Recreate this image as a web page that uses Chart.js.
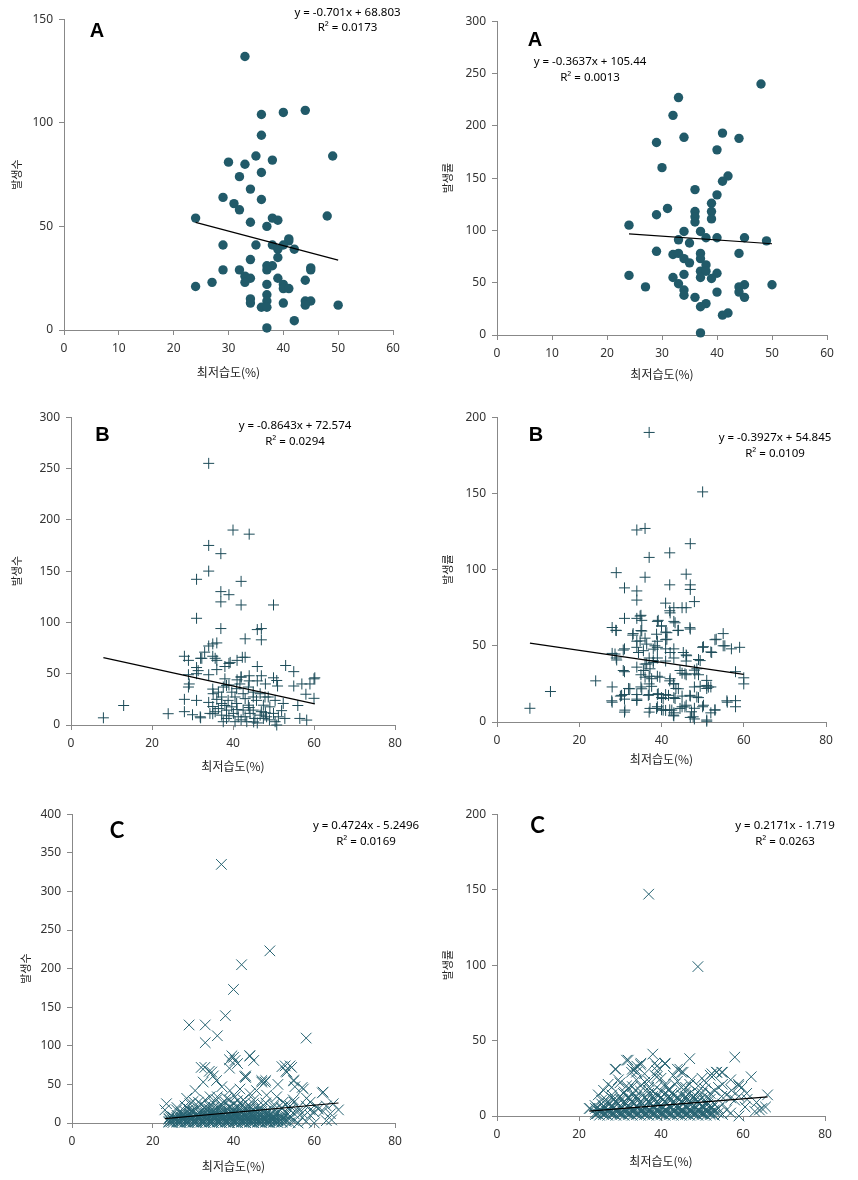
<!DOCTYPE html>
<html><head><meta charset="utf-8">
<script src="https://cdn.jsdelivr.net/npm/chart.js@4.4.1/dist/chart.umd.min.js"></script>
<style>
html,body{margin:0;padding:0;background:#fff;}
body{width:858px;height:1180px;position:relative;overflow:hidden;}
canvas{position:absolute;}
.lbl{position:absolute;transform:translate(-50%,-50%);white-space:nowrap;color:#000;}
.letter{font-family:"Liberation Sans",Arial,sans-serif;font-weight:bold;font-size:20px;line-height:1;}
.letterC{font-family:Lato,"Liberation Sans",sans-serif;font-weight:bold;font-size:22px;line-height:1;}
.eq{font-family:"Noto Sans",sans-serif;font-size:11.5px;line-height:1;}
</style></head><body>
<script>
// ---------- data ----------
const a1Data = [[33,132],[44,106],[40,105],[36,104],[36,94],[35,84],[49,84],[30,81],[33,80],[38,82],[32,74],[36,76],[34,68],[29,64],[36,63],[31,61],[32,58],[24,54],[48,55],[34,52],[38,54],[39,53],[37,50],[41,44],[41,43],[29,41],[35,41],[38,41],[40,41],[39,39],[42,39],[39,35],[34,34],[38,31],[37,31],[37,29],[29,29],[32,29],[45,30],[45,29],[33,26],[34,25],[39,25],[44,24],[27,23],[33,23],[24,21],[37,22],[40,22],[40,20],[41,20],[37,17],[34,15],[34,13],[37,14],[44,14],[45,14],[40,13],[44,12],[50,12],[36,11],[37,11],[42,4.5],[37,1]];

const a2Data = [[48,240],[33,227],[32,210],[29,184],[34,189],[41,193],[44,188],[40,177],[30,160],[42,152],[41,147],[36,139],[40,134],[39,126],[31,121],[29,115],[36,118],[39,118],[36,113],[36,108],[39,111],[24,105],[34,99],[37,99],[33,91],[35,88],[38,93],[40,93],[45,93],[49,90],[29,80],[32,77],[33,78],[37,78],[44,78],[34,73],[37,73],[35,69],[38,67],[37,61],[38,61],[40,59],[24,57],[34,58],[32,55],[37,55],[39,54],[33,49],[45,48],[50,48],[27,46],[44,46],[34,43],[34,38],[40,41],[44,41],[45,36],[36,36],[38,30],[37,27],[42,21],[41,19],[37,2]];

const b1Data = [[34,255],[40,190],[44,186],[34,175],[37,167],[34,150],[31,142],[42,140],[37,130],[39,127],[37,120],[42,117],[50,117],[31,104],[37,94],[46,93],[47,94],[43,84],[47,83],[34,77],[35,79],[36,80],[33,71],[32,65],[28,67],[29,63],[35,67],[36,63],[41,63],[43,66],[39,60],[38,57],[31,56],[53,58],[46,57],[55,52],[36,54],[34,49],[29,49],[47,48],[60,45],[50,46],[42,47],[41,44],[44,43],[31,50],[29,37],[35,35],[39,39],[51,38],[55,38],[57,40],[59,40],[58,30],[60,26],[56,19],[28,25],[31,24],[34,22],[13,19],[8,7],[24,11],[28,13],[30,10],[32,7],[35,11],
[32.3,65],[35.6,65],[39.3,61],[42.3,66],[31.4,53],[29.2,40],[42,46.6],[50.8,43.4],[60.2,46],[38.4,38.6],[39.7,32],[41.7,40],[43.8,37],[45,32],[46.7,30.5],[48.7,27.3],[50.4,24],[52.4,21],[37.2,27.3],[37.2,21],[38.8,24],[40.9,21],[43,25.7],[43.8,19.3],[45.8,24],[47.5,19.3],[49.1,17.7],[36.4,16],[38.4,14.5],[39.7,17.7],[42.5,14.5],[45,14.5],[31.9,8],[34.3,11.3],[35.6,12.9],[37.2,9.6],[38.4,6.4],[40.1,11.3],[41.3,8],[40.5,3.2],[43,8],[44.2,11.3],[45.4,6.4],[46.7,9.6],[47.5,6.4],[48.3,8],[50,11.3],[51.2,8],[50.4,3.2],[52.8,6.4],[56.5,6.4],[58.2,4.8],[50.8,0],[43.4,3.2],[37.6,3.2],[45.1,3],[36.4,32],[37.6,37],[35.1,30.5],[40.5,27.3],[42.5,30.5],[47.9,27.3],[40.9,35.4],[45,27.3],[46,43],[48,40],[44,48],[38,45],[36,25],[41,15],[47,13],[39,9],[42,5],[46,2],[48,12],[49,5],[44,17],[52,14],[35,18],[38,19]];

const b2Data = [[37,190],[50,151],[34,126],[36,127],[47,117],[42,111],[37,108],[29,98],[36,95],[46,97],[31,88],[42,90],[47,90],[47,87],[34,86],[34,80],[48,79],[41,78],[42,73],[43,75],[45,75],[46,75],[31,68],[34,68],[35,70],[39,66],[43,66],[40,63],[28,62],[29,60],[47,61],[44,60],[35,60],[41,59],[55,58],[33,57],[53,54],[36,55],[34,53],[41,54],[39,53],[55,50],[57,48],[59,49],[50,49],[52,46],[31,48],[34,49],[39,49],[41,48],[43,48],[28,45],[29,42],[46,44],[46,40],[49,41],[43,42],[37,42],[39,42],[41,40],[34,36],[36,38],[38,39],[31,33],[58,33],[48,34],[35,31],[37,30],[39,30],[45,32],[46,31],[49,31],[60,29],[60,25],[24,27],[42,27],[43,25],[37,25],[28,23],[32,22],[35,23],[43.5,22],[48,23],[51,24],[51,22],[52,23],[13,20],[31,18],[30,17],[34,18],[37,18],[39,18],[41,18],[45,17],[47,17],[49,16],[34,15],[31,15],[40,16],[43,16],[28,13],[56,13],[58,14],[58,10],[39,10],[40,8],[41,7.6],[42,8],[45,10],[46,11],[48,9],[50,10],[31,6.5],[37,6.5],[43,6],[52,6],[53,8],[43,4],[47,3],[48,2],[51,0.5],[8,9],
[42.1,71.6],[34.8,69.5],[39.2,66.7],[35.2,66.7],[43.3,65.1],[28.9,60.2],[33.1,58],[35.2,59.7],[40,63],[44.1,60.2],[46.9,61.9],[38.8,57.6],[41.3,58.6],[41.3,54.3],[34.8,53.2],[36.4,51.1],[38.4,50],[30.7,47.2],[28.7,44.6],[29.1,40.7],[34.4,45.6],[35.6,46.8],[38,47.8],[42.1,45.6],[45.3,45.6],[46.1,43.5],[50.2,49.4],[52.2,45.6],[53.3,54.3],[55.4,50],[49.4,40.3],[38,40.3],[36.4,38.1],[37.2,34.9],[35.6,33.8],[30.7,33.8],[44.5,33.8],[45.7,31.6],[48.6,34.9],[48.1,31.6],[36,29.4],[37.6,28.4],[39.6,29.4],[42.1,28.4],[42.9,25.1],[51,27.3],[51.4,22.9],[32.3,21.8],[35.2,21.8],[37.6,23.4],[44.1,21.8],[49.4,23.4],[30.3,17.5],[36.8,17.5],[39.2,18.6],[41.7,17.5],[46.9,17.5],[48.6,16.4],[27.9,13.9],[34,14.1],[40.4,15.4],[43.3,15.4],[55.9,13.9],[31.1,7.8],[37.2,8.9],[38.8,8.9],[40.4,7.8],[42.5,7.8],[44.5,8.9],[45.7,9.9],[47.3,6.7],[50.2,11],[53,7.8],[47.7,3.4],[42.9,4.5],[51,1.3]];

const c1Data = [[37,335],[49,223],[42,205],[40,173],[38,139],[29,127],[33,127],[36,113],[33,104],[58,110],[40,85],[39,82],[44,87],[45,81],[41,77],[52,73],[54,74],[53,67],[32,72],[34,67],[35,61],[39,71],[43,61],[43,59],[42.8,60],[47,53],[48,55],[55,55],[51,50],[57,46],[62,39],
[39.6,87],[40.4,81],[44.1,87],[32.9,72],[34.6,66],[47,55],[47.8,53],[52.8,74],[54.4,72],[53.2,66],[54.8,55],[55.2,47],[57.3,44],[62.2,40],[30.5,42],[32.5,53],[35.8,55],[37.1,47],[39.1,42],[41.6,44],[44.1,38],[45.7,42],[48.2,36],[50.7,34],[52.3,27],[54.8,30],[58.1,32],[59,27],[60.6,21],[64.7,25],[66,17],[64.3,4],[23.4,25],[23,17],[25.9,17],[28.4,32],[29.2,25],[31.3,27],[34.2,34],[35.8,30],[38.3,32],[40.4,34],[42.4,30],[44.9,25],[47.4,23],[49.9,21],[51.9,19],[54,17],[56,15],[59,17],[62.2,15],[24.3,8],[27.6,10],[30,15],
[26,20],[27,14],[28,22],[29,18],[30,28],[31,20],[32,16],[32,24],[33,30],[33,19],[34,22],[35,16],[35,26],[36,20],[36,34],[37,24],[37,18],[38,27],[38,14],[39,21],[39,30],[40,16],[40,25],[41,20],[41,29],[42,14],[42,23],[43,18],[43,27],[44,21],[44,14],[45,17],[45,30],[46,22],[46,13],[47,18],[48,15],[48,26],[49,12],[50,16],[50,24],[51,13],[52,20],[53,14],[53,24],[54,22],[55,12],[55,27],[56,20],[57,13],[58,22],[59,10],[60,14],[61,18],[63,22],[64,12],
[24,1],[26,1],[28,1],[30,1],[32,1],[34,1],[36,1],[38,1],[40,1],[42,1],[44,1],[46,1],[48,1],[50,1],[52,1],[56,0],[60,0],
[25,3],[27,3],[29,3],[31,3],[33,3],[35,3],[37,3],[39,3],[41,3],[43,3],[45,3],[47,3],[49,3],[51,3],[53,2],[55,3],[58,2],[63,3],
[24,5],[26,5],[28,5],[30,5],[32,5],[34,5],[36,5],[38,5],[40,5],[42,5],[44,5],[46,5],[48,5],[50,5],[52,5],[54,6],
[25,7],[27,7],[29,7],[31,7],[33,7],[35,7],[37,7],[39,7],[41,7],[43,7],[45,7],[47,7],[49,8],[51,8],[53,9],[57,7],
[28,10],[30,9],[32,10],[34,9],[36,10],[38,9],[40,11],[42,9],[44,10],[46,9],[48,10],[52,11],[54,9],
[31,12],[33,13],[35,12],[37,13],[39,12],[41,13],[43,12],[45,11],[47,12],[50,10]];

const c1Dense = [[25,0.5],[27,0.5],[29,0.5],[31,0.5],[33,0.5],[35,0.5],[37,0.5],[39,0.5],[41,0.5],[43,0.5],[45,0.5],[47,0.5],[49,0.5],[51,0.5],[54,0.5],
[24,2],[26,2],[28,2],[30,2],[32,2],[34,2],[36,2],[38,2],[40,2],[42,2],[44,2],[46,2],[48,2],[50,2],[52,2],
[25,4],[27,4],[29,4],[31,4],[33,4],[35,4],[37,4],[39,4],[41,4],[43,4],[45,4],[47,4],[49,4],[51,4],[53,4],
[24,6],[26,6],[28,6],[30,6],[32,6],[34,6],[36,6],[38,6],[40,6],[42,6],[44,6],[46,6],[48,6],[50,6],[52,6],
[25,8],[27,8],[29,8],[31,8],[33,8],[35,8],[37,8],[39,8],[41,8],[43,8],[45,8],[47,8],[50,8],
[26,10],[29,11],[31,10],[33,10],[35,10],[37,10],[39,10],[41,10],[43,10],[45,9],[47,10],[49,10],
[27,12],[29,13],[32,12],[34,13],[36,12],[38,12],[40,13],[42,12],[44,12],[46,12],[48,12],
[28,15],[30,14],[33,15],[35,14],[37,15],[39,15],[41,15],[43,15],[45,14],[47,15],
[30,17],[34,18],[36,17],[38,17],[40,18],[42,17],[44,18],[46,17],
[33,21],[35,20],[37,21],[39,20],[41,22],[43,20],
[24.5,1.5],[26.5,1.5],[28.5,1.5],[30.5,1.5],[32.5,1.5],[34.5,1.5],[36.5,1.5],[38.5,1.5],[40.5,1.5],[42.5,1.5],[44.5,1.5],[46.5,1.5],[48.5,1.5],[50.5,1.5],
[25.5,5.5],[27.5,5.5],[29.5,5.5],[31.5,5.5],[33.5,5.5],[35.5,5.5],[37.5,5.5],[39.5,5.5],[41.5,5.5],[43.5,5.5],[45.5,5.5],[47.5,5.5],[49.5,5.5]];

const c2Data = [[37,147],[49,99],[38,41],[58,39],[47,38],[32,37],[35,34],[41,35],[39,33],[33,31],[34,29],[29,31],[44,31],[45,29],[62,26],[52,27],[53.5,29],[55,29],[39,26],[59,20],[66,14],[64,4],[22.5,5],
[31.6,37],[34.1,33],[35.1,35],[38.5,35],[41,34.5],[28.8,31],[32.8,29],[33.7,31],[39,30],[44.6,31],[45.4,29],[52.4,28],[53.6,29],[54.8,29],[58.9,21],[27.1,21],[29.6,24],[31.6,20],[36.1,22.5],[38.5,27],[41,21],[43.4,21],[47.5,24],[49.1,20],[50.7,18],[54,19],[57.2,17],[59.7,19],[60.9,15],[63.3,9],[64.6,5],[24.7,14],[25.5,10.5],[22.7,5],[23.9,7],[28,14],[30.8,15],[33.7,17],[36.9,17],[40.2,16],[42.6,15],[45,14],[48.3,14],[51.5,12],[54.8,13],[58,10.5],[60.5,6],[62.9,3],[65.5,6],
[26,17],[28,19],[30,22],[32,18],[34,24],[35,20],[37,23],[39,19],[40,25],[42,18],[44,23],[46,19],[47,21],[49,16],[51,22],[53,17],[55,21],[56,14],[57,24],[59,13],[61,11],[36,28],[43,27],[50,25],
[24,1],[26,1],[28,1],[30,1],[32,1],[34,1],[36,1],[38,1],[40,1],[42,1],[44,1],[46,1],[48,1],[50,1],[52,1],[55,1],[59,0],
[25,3],[27,3],[29,3],[31,3],[33,3],[35,3],[37,3],[39,3],[41,3],[43,3],[45,3],[47,3],[49,3],[51,3],[53,3],[57,2],
[24,5],[26,5],[28,6],[30,5],[32,5],[34,6],[36,5],[38,6],[40,5],[42,6],[44,5],[46,6],[48,5],[50,6],[52,5],[54,5],[56,4],
[27,8],[29,9],[31,8],[33,9],[35,8],[37,9],[39,8],[41,9],[43,8],[45,9],[47,8],[49,9],[51,8],[53,8],[55,8],
[30,11],[32,12],[34,11],[36,12],[38,11],[40,12],[42,11],[44,12],[46,11],[48,11],[50,12],[52,11],[57,12],
[33,14],[37,15],[39,14],[41,15],[43,14],[47,15],[52,15]];

const c2Dense = [[25,0.5],[27,0.5],[29,0.5],[31,0.5],[33,0.5],[35,0.5],[37,0.5],[39,0.5],[41,0.5],[43,0.5],[45,0.5],[47,0.5],[49,0.5],[51,0.5],[53,0.5],
[24,2],[26,2],[28,2],[30,2],[32,2],[34,2],[36,2],[38,2],[40,2],[42,2],[44,2],[46,2],[48,2],[50,2],[52,2],[54,2],
[25,4],[27,4],[29,4],[31,4],[33,4],[35,4],[37,4],[39,4],[41,4],[43,4],[45,4],[47,4],[49,4],[51,4],[53,4],
[26,6.5],[28,7],[30,6.5],[32,7],[34,6.5],[36,7],[38,6.5],[40,7],[42,6.5],[44,7],[46,6.5],[48,7],[50,6.5],[52,7],
[27,9.5],[29,10],[31,9.5],[33,10],[35,9.5],[37,10],[39,9.5],[41,10],[43,9.5],[45,10],[47,9.5],[49,10],[51,9.5],
[28,12],[30,13],[32,12.5],[34,13],[36,12.5],[38,13],[40,12.5],[42,13],[44,12.5],[46,13],[48,12.5],
[31,16],[35,16.5],[38,16],[42,17],[46,16],[50,15],
[33,19.5],[37,19],[41,19.5],[45,19],
[24.5,1.5],[26.5,1.5],[28.5,1.5],[30.5,1.5],[32.5,1.5],[34.5,1.5],[36.5,1.5],[38.5,1.5],[40.5,1.5],[42.5,1.5],[44.5,1.5],[46.5,1.5],[48.5,1.5],[50.5,1.5],[52.5,1.5],
[25.5,3.5],[27.5,3.5],[29.5,3.5],[31.5,3.5],[33.5,3.5],[35.5,3.5],[37.5,3.5],[39.5,3.5],[41.5,3.5],[43.5,3.5],[45.5,3.5],[47.5,3.5],[49.5,3.5],[51.5,3.5],
[24.5,5.5],[26.5,5.5],[28.5,5.5],[30.5,5.5],[32.5,5.5],[34.5,5.5],[36.5,5.5],[38.5,5.5],[40.5,5.5],[42.5,5.5],[44.5,5.5],[46.5,5.5],[48.5,5.5],[50.5,5.5],[52.5,5.5],
[25.5,8],[27.5,8],[29.5,8],[31.5,8],[33.5,8],[35.5,8],[37.5,8],[39.5,8],[41.5,8],[43.5,8],[45.5,8],[47.5,8],[49.5,8],[51.5,8],
[26.5,11],[28.5,11],[30.5,11],[32.5,11],[34.5,11],[36.5,11],[38.5,11],[40.5,11],[42.5,11],[44.5,11],[46.5,11],[48.5,11]];

const panelData = [a1Data, a2Data, b1Data, b2Data, c1Data.concat(c1Dense), c2Data.concat(c2Dense)];
const slopes = [-0.701, -0.3637, -0.8643, -0.3927, 0.4724, 0.2171];
const intercepts = [68.803, 105.44, 72.574, 54.845, -5.2496, -1.719];
const eqLabels = ["y = -0.701x + 68.803","y = -0.3637x + 105.44","y = -0.8643x + 72.574","y = -0.3927x + 54.845","y = 0.4724x - 5.2496","y = 0.2171x - 1.719"];
const r2Labels = ["R² = 0.0173","R² = 0.0013","R² = 0.0294","R² = 0.0109","R² = 0.0169","R² = 0.0263"];
const panelLetters = ["A","A","B","B","C","C"];
const xMax = [60,60,80,80,80,80];
const xStep = [10,10,20,20,20,20];
const yMax = [150,300,300,200,400,200];
const yStep = [50,50,50,50,50,50];
const yTitles = ["발생수","발생률","발생수","발생률","발생수","발생률"];
const xTitle = "최저습도(%)";

// ---------- layout & style ----------
const layout = [
 {L:64,T:16,R:393,B:330,ytx:17,xty:373, letter:[97,30], eq:[347.5,12,27]},
 {L:497,T:18,R:827,B:335,ytx:448,xty:375, letter:[535,38.5], eq:[590,61,77]},
 {L:71,T:414,R:395,B:725,ytx:17,xty:767, letter:[102.5,434], eq:[295,425,441]},
 {L:497,T:414,R:826,B:722,ytx:448,xty:760, letter:[536,433.5], eq:[775,437,453]},
 {L:72,T:811,R:395,B:1123,ytx:26,xty:1167, letter:[117,830], eq:[366,825,841]},
 {L:497,T:811,R:825,B:1116,ytx:448,xty:1162, letter:[537.5,825], eq:[785,825,841]}
];
const markerStyles = [
 {pointStyle:'circle', pointRadius:4.7, backgroundColor:'#215a69', borderColor:'#215a69', borderWidth:0},
 {pointStyle:'circle', pointRadius:4.7, backgroundColor:'#215a69', borderColor:'#215a69', borderWidth:0},
 {pointStyle:'cross', pointRadius:5.5, backgroundColor:'#1d4c59', borderColor:'#1d4c59', borderWidth:1},
 {pointStyle:'cross', pointRadius:5.5, backgroundColor:'#1d4c59', borderColor:'#1d4c59', borderWidth:1},
 {pointStyle:'crossRot', pointRadius:7.5, backgroundColor:'#276372', borderColor:'#276372', borderWidth:1},
 {pointStyle:'crossRot', pointRadius:7.5, backgroundColor:'#276372', borderColor:'#276372', borderWidth:1}
];
const AXIS = '#888888';

function addLabel(text, cls, x, y){
  const d = document.createElement('div');
  d.className = 'lbl ' + cls;
  d.textContent = text;
  d.style.left = x + 'px';
  d.style.top = y + 'px';
  document.body.appendChild(d);
}

function build(i){
  const g = layout[i];
  const left = Math.round(g.ytx - 6.6);
  const top = g.T - 10;
  const right = g.R + 25;
  const bottom = Math.round(g.xty + 7.2);
  const cv = document.createElement('canvas');
  cv.width = right - left; cv.height = bottom - top;
  cv.style.left = left + 'px'; cv.style.top = top + 'px';
  cv.style.width = (right-left) + 'px'; cv.style.height = (bottom-top) + 'px';
  document.body.appendChild(cv);
  const yW = g.L - left, xH = bottom - g.B;
  const src = panelData[i];
  const pts = src.map(p => ({x:p[0], y:p[1]}));
  const xs = src.map(p => p[0]);
  const x0 = Math.min(...xs), x1 = Math.max(...xs);
  const trend = [{x:x0, y:slopes[i]*x0 + intercepts[i]}, {x:x1, y:slopes[i]*x1 + intercepts[i]}];
  new Chart(cv, {
    type:'scatter',
    data:{datasets:[
      {data:trend, showLine:true, borderColor:'#000', borderWidth:1.2, pointRadius:0, order:0, clip:false},
      Object.assign({data:pts, order:1, clip:false}, markerStyles[i])
    ]},
    options:{
      responsive:false, animation:false, devicePixelRatio:1,
      layout:{padding:{left:0, top:10, right:25, bottom:0}},
      plugins:{legend:{display:false}, tooltip:{enabled:false}},
      scales:{
        x:{type:'linear', position:'bottom', min:0, max:xMax[i],
          ticks:{stepSize:xStep[i], padding:6, color:'#333', font:{family:'Noto Sans', size:12}, maxRotation:0, autoSkip:false},
          grid:{drawOnChartArea:false, drawTicks:true, tickLength:5, color:AXIS},
          border:{display:true, color:AXIS, width:1},
          title:{display:true, text:xTitle, color:'#222', font:{family:'Noto Sans CJK KR', size:12}, padding:{top:0, bottom:0}},
          afterFit(s){ s.height = xH; }
        },
        y:{type:'linear', position:'left', min:0, max:yMax[i],
          ticks:{stepSize:yStep[i], padding:6, color:'#333', font:{family:'Noto Sans', size:12}, autoSkip:false},
          grid:{drawOnChartArea:false, drawTicks:true, tickLength:5, color:AXIS},
          border:{display:true, color:AXIS, width:1},
          title:{display:true, text:yTitles[i], color:'#222', font:{family:'Noto Sans CJK KR', size:11}, padding:{top:0, bottom:0}},
          afterFit(s){ s.width = yW; }
        }
      }
    }
  });
  addLabel(panelLetters[i], panelLetters[i] === 'C' ? 'letterC' : 'letter', g.letter[0], g.letter[1]);
  addLabel(eqLabels[i], 'eq', g.eq[0], g.eq[1]);
  addLabel(r2Labels[i], 'eq', g.eq[0], g.eq[2]);
}
for (let i = 0; i < 6; i++) build(i);
</script>
</body></html>
